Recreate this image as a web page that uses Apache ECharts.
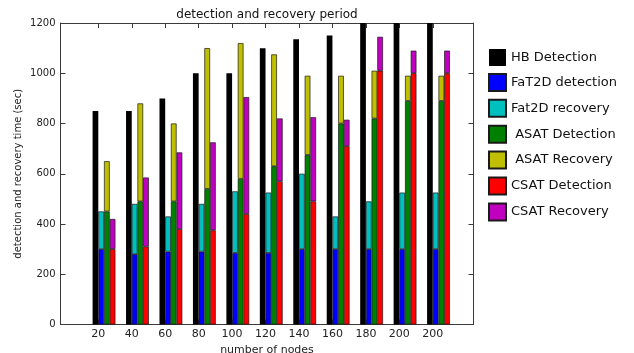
<!DOCTYPE html>
<html>
<head>
<meta charset="utf-8">
<script src="https://cdn.jsdelivr.net/npm/echarts@6/dist/echarts.min.js"></script>
<style>
html,body{margin:0;padding:0;background:#fff;}
#c{width:634px;height:353px;}
</style>
</head>
<body>
<div id="c"></div>
<script>
// ---- data ----
const categories = ['20','40','60','80','100','120','140','160','180','200','200'];
const hbDetection    = [850, 850, 900, 1000, 1000, 1100, 1135, 1150, 1200, 1200, 1200];
const fat2dDetection = [300, 280, 290, 290, 285, 285, 300, 300, 300, 300, 300];
const fat2dRecovery  = [150, 200, 140, 190, 245, 240, 300, 130, 190, 225, 225];
const asatDetection  = [450, 490, 490, 540, 580, 630, 675, 800, 820, 890, 890];
const asatRecovery   = [200, 390, 310, 560, 540, 445, 315, 190, 190, 100, 100];
const csatDetection  = [300, 310, 380, 375, 440, 570, 490, 710, 1010, 1000, 1000];
const csatRecovery   = [120, 275, 305, 350, 465, 250, 335, 105, 135, 90, 90];
const yTicks = [0, 200, 400, 600, 800, 1000, 1200];

// ---- layout constants ----
const FONT = 'DejaVu Sans';
const BAR_W = 5.7;
const LABEL_SHIFT = 0.1704; // tick sits one bar width left of group centre
const X_MIN = -1.3004, X_MAX = 11.046; // frame axis in group units
const tickPos = categories.map((c, i) => i - LABEL_SHIFT);

function bar(name, arr, color, stack, border) {
  const s = {
    name: name,
    type: 'bar',
    xAxisIndex: 2,
    yAxisIndex: 2,
    data: arr,
    barWidth: BAR_W,
    barGap: '0%',
    clip: true,
    itemStyle: {
      color: color,
      borderColor: border ? '#1a1a1a' : color,
      borderWidth: border ? 0.7 : 0
    },
    emphasis: {disabled: true}
  };
  if (stack) s.stack = stack;
  return s;
}

const chart = echarts.init(document.getElementById('c'), null, {renderer: 'canvas'});
const axisLineStyle = {color: '#3a3a3a', width: 1};
chart.setOption({
  animation: false,
  backgroundColor: '#ffffff',
  textStyle: {fontFamily: FONT},
  grid: [
    {left: 60.5, right: 160.5, top: 23, bottom: 28.5, containLabel: false, outerBoundsMode: 'none'},
    {left: 87.275, right: 178.8, top: 23, bottom: 28.5, containLabel: false, outerBoundsMode: 'none'}
  ],
  legend: {
    orient: 'vertical',
    left: 483,
    top: 44,
    itemWidth: 17,
    itemHeight: 17,
    itemGap: 6.9,
    icon: 'rect',
    textStyle: {fontFamily: FONT, fontSize: 13, color: '#111'},
    selectedMode: false
  },
  xAxis: [
    {
      gridIndex: 0, type: 'value', position: 'bottom', min: X_MIN, max: X_MAX,
      name: 'number of nodes', nameLocation: 'middle', nameGap: 17,
      nameTextStyle: {fontFamily: FONT, fontSize: 11, color: '#222'},
      axisLine: {show: true, onZero: false, lineStyle: axisLineStyle},
      axisTick: {show: true, inside: true, length: 5, customValues: tickPos, lineStyle: axisLineStyle},
      axisLabel: {
        show: true, margin: 4, fontFamily: FONT, fontSize: 11, color: '#222',
        customValues: tickPos,
        formatter: v => categories[Math.round(v + LABEL_SHIFT)]
      },
      splitLine: {show: false}
    },
    {
      gridIndex: 0, type: 'value', position: 'top', min: X_MIN, max: X_MAX,
      name: 'detection and recovery period', nameLocation: 'middle', nameGap: 2,
      nameTextStyle: {fontFamily: FONT, fontSize: 12, color: '#111'},
      axisLine: {show: true, onZero: false, lineStyle: axisLineStyle},
      axisTick: {show: true, inside: true, length: 5, customValues: tickPos, lineStyle: axisLineStyle},
      axisLabel: {show: false},
      splitLine: {show: false}
    },
    {
      gridIndex: 1, type: 'category', data: categories, boundaryGap: true,
      axisLine: {show: false}, axisTick: {show: false}, axisLabel: {show: false},
      splitLine: {show: false}
    }
  ],
  yAxis: [
    {
      gridIndex: 0, type: 'value', position: 'left', min: 0, max: 1200, interval: 200,
      name: 'detection and recovery time (sec)', nameLocation: 'middle', nameGap: 37, nameRotate: 90,
      nameMoveOverlap: false,
      nameTextStyle: {fontFamily: FONT, fontSize: 10, color: '#222'},
      axisLine: {show: true, onZero: false, lineStyle: axisLineStyle},
      axisTick: {show: true, inside: true, length: 5, lineStyle: axisLineStyle},
      axisLabel: {margin: 5, fontFamily: FONT, fontSize: 10, color: '#222',
        customValues: yTicks, formatter: v => String(v)},
      splitLine: {show: false}
    },
    {
      gridIndex: 0, type: 'value', position: 'right', min: 0, max: 1200, interval: 200,
      axisLine: {show: true, onZero: false, lineStyle: axisLineStyle},
      axisTick: {show: true, inside: true, length: 5, lineStyle: axisLineStyle},
      axisLabel: {show: false},
      splitLine: {show: false}
    },
    {
      gridIndex: 1, type: 'value', min: 0, max: 1200,
      axisLine: {show: false}, axisTick: {show: false}, axisLabel: {show: false},
      splitLine: {show: false}
    }
  ],
  series: [
    bar('HB Detection', hbDetection, '#000000', null, false),
    bar('FaT2D detection', fat2dDetection, '#0000ff', 'fat2d', true),
    bar('Fat2D recovery', fat2dRecovery, '#00bfbf', 'fat2d', true),
    bar(' ASAT Detection', asatDetection, '#008000', 'asat', true),
    bar(' ASAT Recovery', asatRecovery, '#bfbf00', 'asat', true),
    bar('CSAT Detection', csatDetection, '#ff0000', 'csat', true),
    bar('CSAT Recovery', csatRecovery, '#bf00bf', 'csat', true)
  ]
});
</script>
</body>
</html>
